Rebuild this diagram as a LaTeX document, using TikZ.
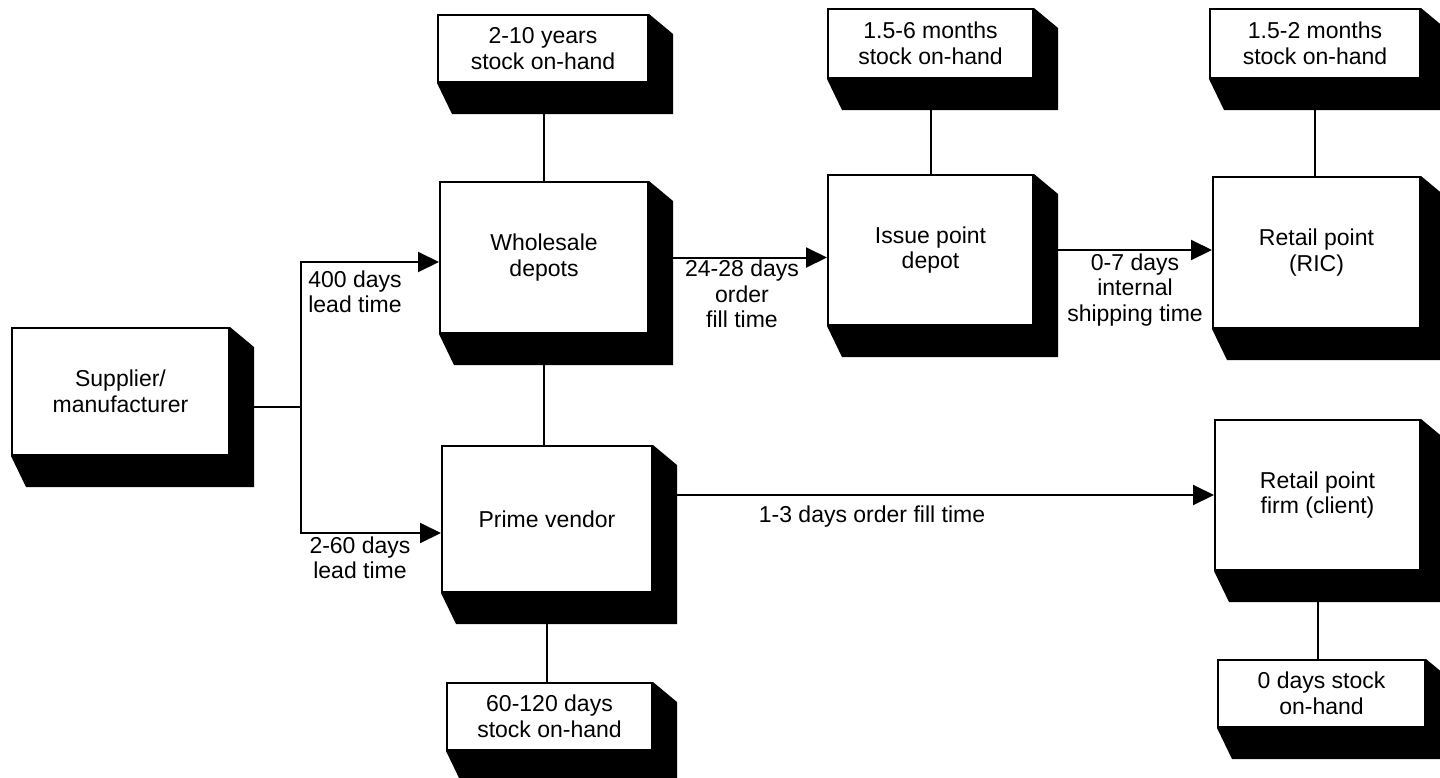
\documentclass[tikz,border=0pt]{standalone}
\usepackage{fontspec}
\setmainfont{Liberation Sans}
\usetikzlibrary{arrows.meta,calc}
\pgfdeclarelayer{bg}
\pgfdeclarelayer{paper}
\pgfsetlayers{paper,bg,main}
\tikzset{
  box/.style={draw, line width=2pt, fill=white, align=center, inner sep=0pt,
              font=\fontsize{23}{25.5}\selectfont},
  conn/.style={line width=2pt},
  arr/.style={conn, -{Triangle[length=21pt,width=20pt]}},
  lbl/.style={align=center, inner sep=0pt, font=\fontsize{23}{25.5}\selectfont},
}
\newcommand{\shbox}[6]{%
  \node[box, minimum width=#4pt-#2pt, minimum height=#5pt-#3pt] (#1)
    at ({(#2+#4)/2},{(#3+#5)/2}) {#6};
  \fill (#1.south west) -- ++(15,31) -- ($(#1.south east)+(24,31)$)
    -- ($(#1.north east)+(24,20)$) -- (#1.north east) -- (#1.south east) -- cycle;
}
\begin{document}
\begin{tikzpicture}[x=1pt,y=-1pt]
\begin{pgfonlayer}{paper}
\fill[white] (0,0) rectangle (1440,777);
\end{pgfonlayer}
\useasboundingbox (0,0) rectangle (1440,777);

\shbox{sup}{12}{328}{229}{455}{Supplier/\\manufacturer}
\shbox{whole}{440}{182}{648}{333}{Wholesale\\depots}
\shbox{topa}{438}{15}{648}{82}{2-10 years\\stock on-hand}
\shbox{prime}{442}{446}{652}{592}{Prime vendor}
\shbox{bota}{447}{683}{652}{750}{60-120 days\\stock on-hand}
\shbox{issue}{828}{175}{1033}{325}{Issue point\\depot}
\shbox{topb}{828}{9}{1033}{78}{1.5-6 months\\stock on-hand}
\shbox{ric}{1213}{177}{1420}{328}{Retail point\\(RIC)}
\shbox{topc}{1210}{9}{1420}{78}{1.5-2 months\\stock on-hand}
\shbox{firm}{1215}{420}{1420}{570}{Retail point\\firm (client)}
\shbox{botb}{1218}{660}{1425}{727}{0 days stock\\on-hand}

\node[lbl] (l400) at (355,292) {400 days\\lead time};
\node[lbl] (l260) at (360,558) {2-60 days\\lead time};
\node[lbl] (l2428) at (742,294) {24-28 days\\order\\fill time};
\node[lbl] (l07) at (1135,290) {0-7 days\\internal\\shipping time};
\node[lbl] (l13) at (872,517) {1-3 days order fill time};

\begin{pgfonlayer}{bg}
  \draw[conn] ([yshift=-15pt]sup.east) -- ++(71,0) coordinate (fork);
  \draw[arr] (fork) |- ([yshift=-4.5pt]whole.west);
  \draw[arr] (fork) |- ([yshift=-14pt]prime.west);
  \draw[conn] (whole.north) -- (whole.north |- topa.south);
  \draw[conn] (whole.south) -- (whole.south |- prime.north);
  \draw[conn] (prime.south) -- (prime.south |- bota.north);
  \draw[arr] (whole.east) -- (whole.east -| issue.west);
  \draw[conn] (topb.south) -- (issue.north);
  \draw[arr] (issue.east) -- (issue.east -| ric.west);
  \draw[conn] (topc.south) -- (topc.south |- ric.north);
  \draw[arr] (prime.east |- firm.west) -- (firm.west);
  \draw[conn] (firm.south) -- (firm.south |- botb.north);
\end{pgfonlayer}
\end{tikzpicture}
\end{document}
